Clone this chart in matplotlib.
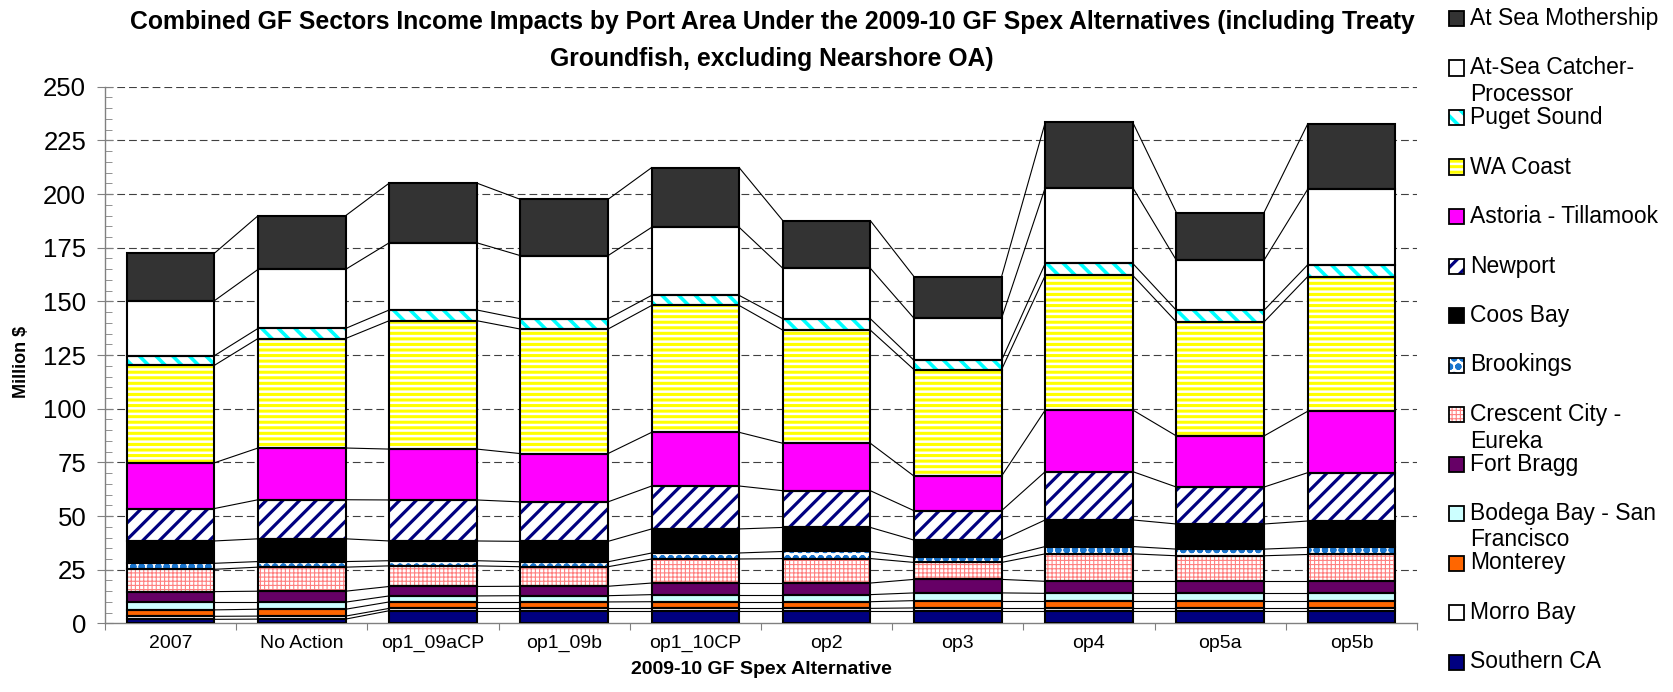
import numpy as np
import matplotlib
matplotlib.use("Agg")
import matplotlib.pyplot as plt
from matplotlib.patches import Rectangle

plt.rcParams["font.family"] = ["Liberation Sans", "DejaVu Sans"]

# categories along the x axis
alternatives = ["2007", "No Action", "op1_09aCP", "op1_09b", "op1_10CP",
                "op2", "op3", "op4", "op5a", "op5b"]

# income by port area, million $ (stack order bottom -> top)
southern_ca = [1.9, 2.0, 5.9, 5.9, 5.9, 5.9, 5.9, 5.9, 5.9, 5.9]
morro_bay = [1.4, 1.4, 1.1, 1.1, 1.1, 1.1, 1.3, 1.3, 1.3, 1.3]
monterey = [3.0, 3.2, 3.0, 3.0, 3.1, 3.1, 3.4, 3.4, 3.4, 3.4]
bodega_sf = [3.6, 3.3, 2.8, 2.9, 3.3, 3.3, 3.6, 3.4, 3.4, 3.4]
fort_bragg = [4.9, 5.1, 4.4, 4.4, 5.4, 5.4, 6.3, 5.6, 5.6, 5.6]
crescent_eureka = [10.4, 11.2, 9.6, 9.1, 11.2, 11.4, 7.9, 12.8, 11.9, 12.5]
brookings = [2.8, 2.6, 2.4, 2.3, 2.8, 3.3, 2.4, 3.4, 3.1, 3.3]
coos_bay = [10.4, 10.6, 9.2, 9.5, 11.2, 11.2, 8.0, 12.4, 11.7, 12.3]
newport = [15.1, 18.2, 19.1, 18.4, 20.0, 17.1, 13.7, 22.5, 17.2, 22.5]
astoria = [21.3, 24.1, 23.7, 22.5, 25.0, 22.1, 16.1, 28.7, 23.8, 28.6]
wa_coast = [45.4, 51.0, 59.8, 58.0, 59.1, 52.7, 49.6, 62.7, 53.1, 62.7]
puget_sound = [4.5, 4.7, 5.0, 4.8, 4.7, 5.3, 4.3, 5.6, 5.4, 5.5]
catcher_processor = [25.6, 27.5, 31.3, 29.4, 31.7, 23.5, 19.6, 35.3, 23.3, 35.2]
mothership = [22.1, 25.0, 27.8, 26.2, 27.8, 22.2, 19.4, 30.4, 22.2, 30.4]

series = [
    ("Southern CA", southern_ca),
    ("Morro Bay", morro_bay),
    ("Monterey", monterey),
    ("Bodega Bay - San\nFrancisco", bodega_sf),
    ("Fort Bragg", fort_bragg),
    ("Crescent City -\nEureka", crescent_eureka),
    ("Brookings", brookings),
    ("Coos Bay", coos_bay),
    ("Newport", newport),
    ("Astoria - Tillamook", astoria),
    ("WA Coast", wa_coast),
    ("Puget Sound", puget_sound),
    ("At-Sea Catcher-\nProcessor", catcher_processor),
    ("At Sea Mothership", mothership),
]

# face colour, hatch, hatch colour, hatch width
styles = {
    "Southern CA": ("#000080", None, None, 0),
    "Morro Bay": ("white", None, None, 0),
    "Monterey": ("#FF6600", None, None, 0),
    "Bodega Bay - San\nFrancisco": ("#CCFFFF", None, None, 0),
    "Fort Bragg": ("#660066", None, None, 0),
    "Crescent City -\nEureka": ("white", "++++", "#FF8080", 0.8),
    "Brookings": ("white", "oo", "#1874CD", 2.2),
    "Coos Bay": ("black", None, None, 0),
    "Newport": ("white", "//", "#000080", 2.3),
    "Astoria - Tillamook": ("#FF00FF", None, None, 0),
    "WA Coast": ("#FFFF00", "---", "white", 1.8),
    "Puget Sound": ("white", "\\\\", "#00FFFF", 2.6),
    "At-Sea Catcher-\nProcessor": ("white", None, None, 0),
    "At Sea Mothership": ("#333333", None, None, 0),
}

W, H = 1674, 692
fig = plt.figure(figsize=(W / 100, H / 100), dpi=100)
ax = fig.add_axes([105 / W, 1 - 623.4 / H, (1417 - 105) / W, (623.4 - 86.7) / H])

x = np.arange(len(alternatives))
width = 0.667
bottom = np.zeros(len(x))
tops = []


def hatched_bar(target, xs, vals, bot, face, hatch, hcolor, hlw):
    with plt.rc_context({"hatch.linewidth": hlw if hatch else 1.0}):
        bars = target.bar(xs, vals, width, bottom=bot, color=face,
                          edgecolor=hcolor if hatch else face, hatch=hatch,
                          linewidth=0, zorder=2)
    if hatch:
        for b in bars:
            if hasattr(b, "set_hatch_linewidth"):
                b.set_hatch_linewidth(hlw)
    target.bar(xs, vals, width, bottom=bot, fill=False, edgecolor="black",
               linewidth=1.5, zorder=3)


for name, vals in series:
    vals = np.array(vals, dtype=float)
    face, hatch, hcolor, hlw = styles[name]
    hatched_bar(ax, x, vals, bottom, face, hatch, hcolor, hlw)
    bottom = bottom + vals
    tops.append(bottom.copy())

# connector lines between neighbouring bars
for top in tops:
    for i in range(len(x) - 1):
        ax.plot([x[i] + width / 2, x[i + 1] - width / 2], [top[i], top[i + 1]],
                color="black", linewidth=0.8, zorder=1.5)

ax.set_xlim(-0.5, len(x) - 0.5)
ax.set_ylim(0, 250)
ax.set_yticks(np.arange(0, 251, 25))
ax.set_yticks(np.arange(0, 251, 5), minor=True)
ax.tick_params(axis="y", which="major", direction="inout", length=11,
               labelsize=18.5, pad=8, color="#808080")
ax.tick_params(axis="y", which="minor", direction="in", length=5, color="#808080")

ax.set_xticks(np.arange(-0.5, len(x)))
ax.set_xticklabels([])
ax.set_xticks(x, minor=True)
ax.set_xticklabels(alternatives, minor=True)
ax.tick_params(axis="x", which="major", direction="out", length=5, color="#808080")
ax.tick_params(axis="x", which="minor", length=0, labelsize=14, pad=8)

for yv in np.arange(25, 251, 25):
    ax.axhline(yv, color="#404040", linewidth=0.8, dashes=(7, 3.6), zorder=1)

for side in ["top", "right"]:
    ax.spines[side].set_visible(False)
for side in ["left", "bottom"]:
    ax.spines[side].set_color("#808080")
    ax.spines[side].set_linewidth(1.0)

tx = 772 / W
fig.text(tx, 1 - 22 / H,
         "Combined GF Sectors Income Impacts by Port Area Under the 2009-10 GF Spex Alternatives (including Treaty",
         ha="center", va="center", fontsize=17.8, fontweight="bold")
fig.text(tx, 1 - 59 / H, "Groundfish, excluding Nearshore OA)",
         ha="center", va="center", fontsize=17.8, fontweight="bold")
fig.text(761 / W, 1 - 669 / H, "2009-10 GF Spex Alternative",
         ha="center", va="center", fontsize=14, fontweight="bold")
fig.text(22 / W, 1 - 362 / H, "Million $", rotation=90,
         ha="center", va="center", fontsize=13, fontweight="bold")

# legend, drawn top to bottom like the original
for i, (name, vals) in enumerate(series[::-1]):
    face, hatch, hcolor, hlw = styles[name]
    cy = 18.5 + 49.5 * i
    with plt.rc_context({"hatch.linewidth": hlw if hatch else 1.0}):
        sq = Rectangle((1449 / W, 1 - (cy + 7.5) / H), 15 / W, 15 / H,
                       transform=fig.transFigure, facecolor=face,
                       edgecolor=hcolor if hatch else face, hatch=hatch,
                       linewidth=0)
    fig.add_artist(sq)
    fig.add_artist(Rectangle((1449 / W, 1 - (cy + 7.5) / H), 15 / W, 15 / H,
                             transform=fig.transFigure, fill=False,
                             edgecolor="black", linewidth=1.3))
    for j, line in enumerate(name.split("\n")):
        fig.text(1470 / W, 1 - (cy + 26.5 * j) / H, line,
                 ha="left", va="center", fontsize=16.5)

fig.savefig("out.png", dpi=100)
